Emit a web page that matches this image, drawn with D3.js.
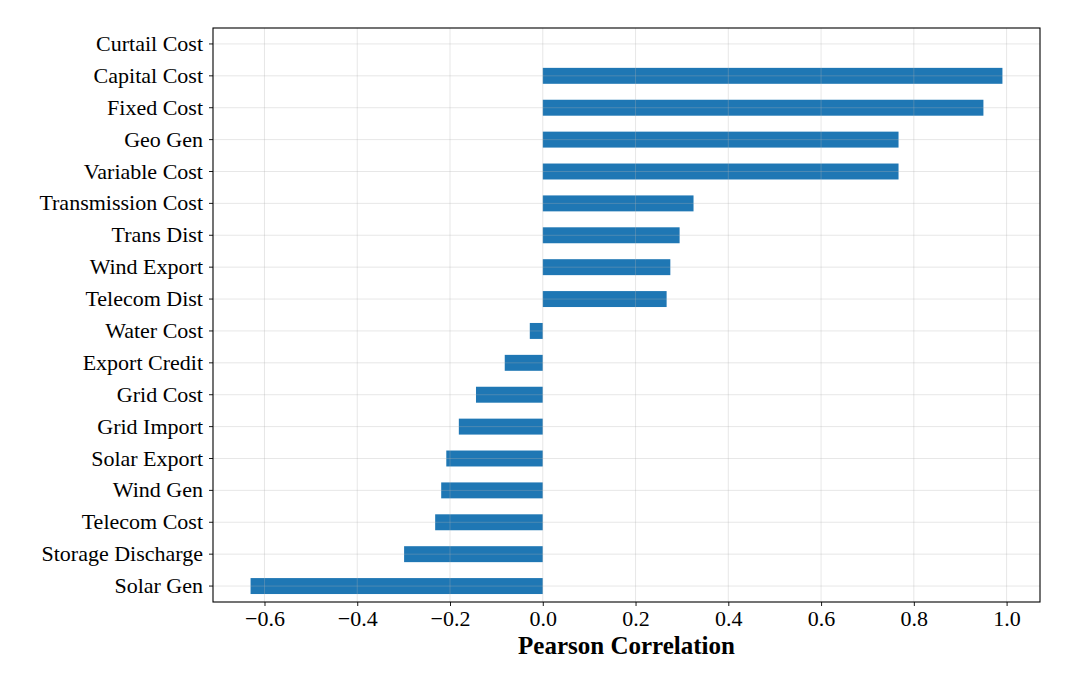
<!DOCTYPE html>
<html>
<head>
<meta charset="utf-8">
<script src="https://cdn.jsdelivr.net/npm/d3@7"></script>
<style>
  body { margin: 0; background: #fff; }
  text { font-family: "Liberation Serif", "Times New Roman", serif; }
</style>
</head>
<body>
<div id="chart"></div>
<script>
const features = [
  "Curtail Cost", "Capital Cost", "Fixed Cost", "Geo Gen", "Variable Cost",
  "Transmission Cost", "Trans Dist", "Wind Export", "Telecom Dist", "Water Cost",
  "Export Credit", "Grid Cost", "Grid Import", "Solar Export", "Wind Gen",
  "Telecom Cost", "Storage Discharge", "Solar Gen"
];
const correlations = [
  0.0, 0.991, 0.950, 0.767, 0.767,
  0.325, 0.295, 0.275, 0.267, -0.028,
  -0.082, -0.144, -0.181, -0.208, -0.219,
  -0.232, -0.299, -0.630
];
const xTicks = [-0.6, -0.4, -0.2, 0.0, 0.2, 0.4, 0.6, 0.8, 1.0];

const data = features.map((f, i) => ({ name: f, value: correlations[i] }));

const W = 1066, H = 698;
const margin = { top: 28, right: 26, bottom: 96, left: 213 };
const width = W - margin.left - margin.right,
  height = H - margin.top - margin.bottom;

const svg = d3.select("#chart").append("svg")
  .attr("width", W).attr("height", H);
const g = svg.append("g")
  .attr("transform", "translate(" + margin.left + "," + margin.top + ")");

const x = d3.scaleLinear()
  .domain([-0.711, 1.072])
  .range([0, width]);

const y = d3.scaleBand()
  .domain(features)
  .range([0, height])
  .paddingInner(0.5)
  .paddingOuter(0.25);

// bars
g.selectAll("rect.bar")
  .data(data)
  .enter().append("rect")
  .attr("class", "bar")
  .attr("x", d => x(Math.min(0, d.value)))
  .attr("y", d => y(d.name))
  .attr("width", d => Math.abs(x(d.value) - x(0)))
  .attr("height", y.bandwidth())
  .attr("fill", "#1f77b4");

// grid on top of bars
g.append("g").selectAll("line")
  .data(xTicks)
  .enter().append("line")
  .attr("x1", d => x(d)).attr("x2", d => x(d))
  .attr("y1", 0).attr("y2", height)
  .attr("stroke", "#b0b0b0").attr("stroke-opacity", 0.35).attr("stroke-width", 0.9);

g.append("g").selectAll("line")
  .data(features)
  .enter().append("line")
  .attr("x1", 0).attr("x2", width)
  .attr("y1", d => y(d) + y.bandwidth() / 2).attr("y2", d => y(d) + y.bandwidth() / 2)
  .attr("stroke", "#b0b0b0").attr("stroke-opacity", 0.35).attr("stroke-width", 0.9);

// axes
const xAxis = g.append("g")
  .attr("transform", "translate(0," + height + ")")
  .call(d3.axisBottom(x).tickValues(xTicks).tickSize(4).tickPadding(4)
    .tickFormat(d => d3.format(".1f")(d).replace("-", "\u2212")));

const yAxis = g.append("g")
  .call(d3.axisLeft(y).tickSize(4).tickPadding(6));

[xAxis, yAxis].forEach(a => {
  a.select(".domain").remove();
  a.selectAll("line").attr("stroke", "#000").attr("stroke-width", 0.9);
  a.selectAll("text").attr("font-size", "22px").attr("fill", "#000")
    .style("font-family", "'Liberation Serif', 'Times New Roman', serif");
});

// frame
g.append("rect")
  .attr("width", width).attr("height", height)
  .attr("fill", "none").attr("stroke", "#000").attr("stroke-width", 1.1);

// axis label
g.append("text")
  .attr("x", width / 2)
  .attr("y", height + 52)
  .attr("text-anchor", "middle")
  .attr("font-size", "25px")
  .attr("font-weight", "bold")
  .text("Pearson Correlation");
</script>
</body>
</html>
